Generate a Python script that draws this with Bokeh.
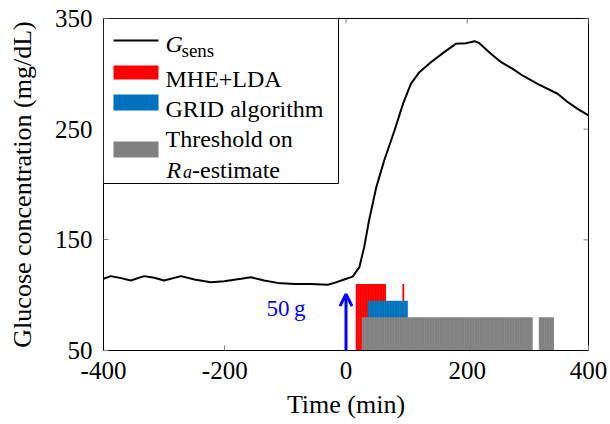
from bokeh.plotting import figure
from bokeh.models import (Range1d, Arrow, OpenHead, Label, BoxAnnotation,
                          FixedTicker)
from bokeh.embed import file_html
from bokeh.resources import INLINE

# ---------------- data ----------------
time_min = [-400, -388, -371, -355, -333, -316, -300, -272, -250, -223, -201,
            -173, -157, -135, -113, -85, -58, -30, -19, -3, 11, 22, 30, 38,
            50, 63, 80, 94, 107, 121, 140, 162, 181, 198, 212, 220, 239, 256,
            275, 291, 316, 349, 366, 382, 400]
g_sens = [114.8, 117.2, 115.4, 113.3, 117.2, 115.7, 113.3, 117.2, 114.2, 111.7,
          112.6, 114.8, 116.2, 113.3, 111.1, 110.2, 110.2, 109.4, 111.1, 114.2,
          116.8, 125.3, 143.4, 167.5, 197.6, 221.7, 248.8, 272.9, 291.0, 301.5,
          310.5, 319.6, 327.1, 327.7, 329.5, 327.7, 318.1, 310.5, 304.5, 298.5,
          291.0, 282.0, 274.4, 268.4, 262.4]

# detection intervals (minutes) and bar heights (mg/dL)
mhe_lda_start = [16, 93]
mhe_lda_end = [66, 96]
mhe_lda_top = 110
grid_start = [36]
grid_end = [102]
grid_top = 95
thr_start = [26, 318]
thr_end = [308, 343]
thr_top = 80
bar_base = 50

meal_time = 0
meal_arrow_top = 101
meal_label = "50\u2009g"
meal_label_x = -99
meal_label_y = 88

x_ticks = [-400, -200, 0, 200, 400]
x_tick_labels = ["-400", "-200", "0", "200", "400"]
y_ticks = [50, 150, 250, 350]

# ---------------- figure ----------------
FONT = "Liberation Serif"
RED, BLUE, GRAY = "#ff0000", "#0072bd", "#808080"
X0, X1, Y0, Y1 = -400, 400, 50, 350
FL, FR, FT, FB = 103, 588, 18, 350   # frame edges in pixels
TICK = 5


def dx(px):
    return X0 + (px - FL) * (X1 - X0) / (FR - FL)


def dy(py):
    return Y1 - (py - FT) * (Y1 - Y0) / (FB - FT)


p = figure(width=608, height=422, x_range=Range1d(X0, X1),
           y_range=Range1d(Y0, Y1), output_backend="svg",
           toolbar_location=None, min_border_left=FL, min_border_right=20,
           min_border_top=FT, min_border_bottom=72)
p.xgrid.visible = False
p.ygrid.visible = False
p.outline_line_color = "black"
p.outline_line_width = 1
p.background_fill_color = "white"
p.border_fill_color = "white"

for ax, ticks in ((p.xaxis[0], x_ticks), (p.yaxis[0], y_ticks)):
    ax.ticker = FixedTicker(ticks=ticks)
    ax.major_tick_in = TICK
    ax.major_tick_out = 0
    ax.minor_tick_in = 0
    ax.minor_tick_out = 0
    ax.major_tick_line_color = GRAY
    ax.axis_line_color = "black"
    ax.major_label_text_font = FONT
    ax.major_label_text_color = "black"
    ax.major_label_text_font_size = "25px"
    ax.axis_label_text_font = FONT
    ax.axis_label_text_font_style = "normal"
    ax.axis_label_text_color = "black"
    ax.axis_label_text_font_size = "26px"

xa = p.xaxis[0]
xa.axis_label = "Time (min)"
xa.major_label_overrides = dict(zip(x_ticks, x_tick_labels))
xa.major_label_standoff = 11
xa.axis_label_standoff = 8

ya = p.yaxis[0]
ya.axis_label = "Glucose concentration (mg/dL)"
ya.major_label_standoff = 11
ya.axis_label_standoff = 15

# mirrored tick marks on the top and right edges of the frame
tick_dy = TICK * (Y1 - Y0) / (FB - FT)
tick_dx = TICK * (X1 - X0) / (FR - FL)
p.segment(x0=x_ticks, x1=x_ticks, y0=[Y1] * len(x_ticks),
          y1=[Y1 - tick_dy] * len(x_ticks), line_color=GRAY, line_width=1)
p.segment(x0=[X1] * len(y_ticks), x1=[X1 - tick_dx] * len(y_ticks),
          y0=y_ticks, y1=y_ticks, line_color=GRAY, line_width=1)

# ---------------- glyphs ----------------
p.line(time_min, g_sens, line_color="black", line_width=2)

hatch = dict(hatch_pattern="vertical_line", hatch_color="white",
             hatch_alpha=0.12, hatch_scale=2.5, hatch_weight=0.6)
p.quad(left=mhe_lda_start, right=mhe_lda_end, bottom=bar_base,
       top=mhe_lda_top, fill_color=RED, line_color=None, **hatch)
p.quad(left=grid_start, right=grid_end, bottom=bar_base,
       top=grid_top, fill_color=BLUE, line_color=None, **hatch)
p.quad(left=thr_start, right=thr_end, bottom=bar_base,
       top=thr_top, fill_color=GRAY, line_color=None, **hatch)

p.add_layout(Arrow(end=OpenHead(size=12, line_color="blue", line_width=3),
                   x_start=meal_time, y_start=bar_base,
                   x_end=meal_time, y_end=meal_arrow_top,
                   line_color="blue", line_width=3))
p.add_layout(Label(x=meal_label_x, y=meal_label_y, text=meal_label,
                   text_align="center", text_baseline="middle",
                   text_color="blue", text_font=FONT,
                   text_font_size="23px"))

# ---------------- legend (drawn by hand, above the axes) ----------------
p.add_layout(BoxAnnotation(left=dx(FL), right=dx(338), top=dy(FT),
                           bottom=dy(183), fill_color="white", fill_alpha=1,
                           line_color="black", line_alpha=1, line_width=1))
p.add_layout(Arrow(end=None, x_start=dx(113), x_end=dx(158),
                   y_start=dy(40), y_end=dy(40), line_color="black",
                   line_width=2))
for color, t, b in ((RED, 65, 79), (BLUE, 94, 110), (GRAY, 141, 157)):
    p.add_layout(BoxAnnotation(left=dx(113), right=dx(158), top=dy(t),
                               bottom=dy(b), fill_color=color, fill_alpha=1,
                               line_color=None))


def leg_text(txt, px, py, size="24px", style="normal"):
    p.add_layout(Label(x=dx(px), y=dy(py), text=txt, text_align="left",
                       text_baseline="alphabetic", text_color="black",
                       text_font=FONT, text_font_size=size,
                       text_font_style=style))


leg_text("G", 165, 43.5, style="italic")
leg_text("sens", 181, 50, size="19px")
leg_text("MHE+LDA", 165, 78.3)
leg_text("GRID algorithm", 165, 108.3)
leg_text("Threshold on", 165, 138.3)
leg_text("R", 166, 169, style="italic")
leg_text("a", 182.5, 171.7, size="18px", style="italic")
leg_text("-estimate", 191.5, 169)

open("out.html", "w").write(file_html(p, INLINE))
